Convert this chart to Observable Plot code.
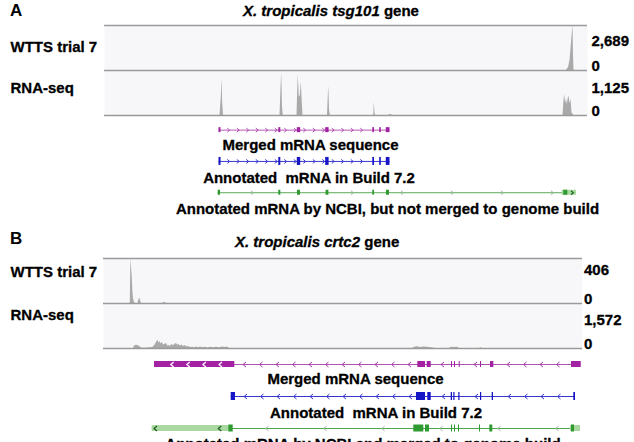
<!DOCTYPE html>
<html>
<head>
<meta charset="utf-8">
<script src="https://cdn.jsdelivr.net/npm/d3@7"></script>
<script src="https://cdn.jsdelivr.net/npm/@observablehq/plot@0.6"></script>
<style>
  html, body { margin: 0; padding: 0; background: #fff; overflow: hidden; }
  #fig { position: relative; width: 634px; height: 442px; overflow: hidden;
         font-family: "Liberation Sans", Arial, sans-serif; color: #000; }
  #fig > div { position: absolute; }
  .letter { font-size: 17px; font-weight: bold; line-height: 17px; }
  .title { font-size: 15px; font-weight: bold; line-height: 15px; white-space: nowrap;
           -webkit-text-stroke: 0.3px #000; }
  svg text { white-space: pre; }
</style>
</head>
<body>
<div id="fig"></div>
<script>
const FONT = "Liberation Sans, Arial, sans-serif";

// ---------- Panel A: tsg101 locus (positions in bp across the browser window) ----------
const tsgRange = [0, 24150];

const tsgWttsMax = 2689;
const tsgWttsPos = [23100, 23200, 23275, 23325, 23375, 23425, 23450, 23475];
const tsgWttsVal = [0, 180, 600, 1300, 2050, 2689, 900, 0];

const tsgRnaMax = 1125;
const tsgRnaPos = [5775, 5840, 5875, 5910, 5950,
  8775, 8825, 8860, 8900, 8940,
  9625, 9665, 9690, 9740, 9790, 9840, 9890, 9925,
  11150, 11190, 11215, 11250, 11290,
  13465, 13490, 13525, 13560,
  14200, 14250, 14350, 14400,
  22925, 22975, 23010, 23050, 23100, 23140, 23190, 23230, 23275, 23325, 23375, 23425, 23475];
const tsgRnaVal = [0, 450, 922, 300, 0,
  0, 700, 1070, 200, 0,
  0, 700, 1010, 450, 500, 830, 300, 0,
  0, 500, 730, 150, 0,
  0, 330, 60, 0,
  0, 25, 20, 0,
  0, 380, 525, 300, 420, 260, 440, 475, 300, 400, 60, 30, 0];

// exon blocks shared by the merged sequence and the Build 7.2 model
const tsgExonStart = [5725, 8715, 9640, 11060, 13415, 13760, 14090];
const tsgExonEnd   = [5825, 8815, 9810, 11230, 13500, 13840, 14275];
const tsgNcbiExonStart = [5685, 8715, 9650, 11080, 13415, 14100, 22965];
const tsgNcbiExonEnd   = [5800, 8815, 9800, 11220, 13500, 14250, 23165];
const tsgNcbiUtrStart = [22885];
const tsgNcbiUtrEnd   = [23600];

// ---------- Panel B: crtc2 locus ----------
const crtcRange = [0, 23950];

const crtcWttsMax = 406;
const crtcWttsPos = [1340, 1370, 1400, 1435, 1465, 1500, 1550, 1600, 1725, 1775, 1815, 1865, 1900, 2950, 3000, 3100, 3150];
const crtcWttsVal = [0, 406, 330, 250, 120, 40, 10, 0, 0, 35, 50, 15, 0, 0, 8, 6, 0];

const crtcRnaMax = 1572;
const crtcRnaPos = [1500, 1550, 1650, 1750, 1850, 1950, 2250, 2350, 2450, 2550, 2650,
  2715, 2765, 2815, 2875, 2935, 3000, 3075, 3150, 3215, 3275,
  3350, 3435, 3500, 3575, 3650, 3715, 3775, 3850, 3935, 4000,
  4100, 4175, 4265, 4350, 4450, 4550, 4650, 4750, 4850, 4950,
  5100, 5200, 5350, 5500, 5650, 5800, 5950, 6100, 6200, 6300,
  15450, 15550, 15700, 15850, 16000, 16200, 16400, 16600,
  17300, 17400, 17550, 17700, 17800,
  18800, 18875, 18950];
const crtcRnaVal = [0, 90, 115, 100, 40, 10, 15, 35, 25, 100, 210,
  300, 190, 245, 160, 215, 120, 150, 175, 90, 105,
  80, 140, 95, 150, 175, 110, 140, 90, 120, 70,
  105, 55, 70, 35, 45, 25, 50, 30, 55, 25,
  45, 20, 40, 25, 45, 30, 50, 35, 50, 0,
  0, 40, 60, 35, 55, 45, 30, 0,
  0, 45, 35, 40, 0,
  0, 25, 0];

const crtcMergedExonStart = [15715, 16185, 17400, 17550, 17785, 18850, 19350, 23400];
const crtcMergedExonEnd   = [16100, 16385, 17450, 17600, 17835, 18900, 19515, 23885];
const crtcMergedUtrStart = [2550];
const crtcMergedUtrEnd   = [6565];

const crtcBuildExonStart = [6385, 15650, 16215, 17385, 17515, 17765, 18850, 19435, 23515];
const crtcBuildExonEnd   = [6600, 16100, 16385, 17450, 17575, 17825, 18910, 19500, 23600];

const crtcNcbiExonStart = [6265, 15515, 16100, 17400, 17550, 17750, 18800, 19315, 23400];
const crtcNcbiExonEnd   = [6485, 16015, 16300, 17450, 17600, 17800, 18850, 19465, 23550];
const crtcNcbiUtrStart = [2435, 23350];
const crtcNcbiUtrEnd   = [6265, 23850];

// ---------- text ----------
const trackNames = ["WTTS trial 7", "RNA-seq"];
const mergedLabel = "Merged mRNA sequence";
const buildLabel = "Annotated  mRNA in Build 7.2";
const ncbiLabelA = "Annotated mRNA by NCBI, but not merged to genome build";
const ncbiLabelB = "Annotated mRNA by NCBI and merged to genome build";

const PURPLE = "#a322a3", BLUE = "#1616c6", GREEN = "#2f9a2f", LIGHTGREEN = "#a9d9a1";
const TRACK_BG = "#f7f7fa", TRACK_LINE = "#9a9a9a", COVER = "#a9a9a9";

const fig = document.getElementById("fig");
function place(node, left, top) {
  const wrap = document.createElement("div");
  wrap.style.left = left + "px";
  wrap.style.top = top + "px";
  wrap.appendChild(node);
  fig.appendChild(wrap);
  return wrap;
}
function htmlText(html, cls, left, top) {
  const d = document.createElement("div");
  d.className = cls;
  d.innerHTML = html;
  place(d, left, top);
}

const textStyle = {fontSize: 15, fontWeight: "bold", fontFamily: FONT, fill: "#000",
  stroke: "#000", strokeWidth: 0.3};

// One read-coverage track: grey filled profile over a pale band with a rule on top
function coverageTrack({pos, val, max, name, domain, left, right, nameDy, maxDy, maxDx, bottomRule}) {
  const pts = pos.map((p, i) => ({pos: p, val: val[i]}));
  return Plot.plot({
    width: 634, height: 49,
    marginTop: 2, marginBottom: 2, marginLeft: left, marginRight: right,
    style: {background: "transparent", overflow: "visible"},
    x: {domain, axis: null},
    y: {domain: [0, max], axis: null},
    marks: [
      Plot.frame({fill: TRACK_BG, stroke: "none"}),
      Plot.areaY(pts, {x: "pos", y: "val", fill: COVER, clip: true}),
      Plot.ruleY([max], {stroke: TRACK_LINE, strokeWidth: 1.3}),
      bottomRule ? Plot.ruleY([0], {stroke: TRACK_LINE, strokeWidth: 1.3}) : null,
      Plot.text([name], {text: d => d, frameAnchor: "top-left", dx: 10 - left, dy: nameDy,
        textAnchor: "start", lineAnchor: "middle", ...textStyle}),
      Plot.text([max], {text: d => d3.format(",")(d), frameAnchor: "top-right", dx: maxDx, dy: maxDy,
        textAnchor: "start", lineAnchor: "middle", ...textStyle}),
      Plot.text(["0"], {text: d => d, frameAnchor: "bottom-right", dx: maxDx, dy: -4,
        textAnchor: "start", lineAnchor: "middle", ...textStyle})
    ]
  });
}

// Chevron glyph used for strand arrows (dir: +1 right, -1 left)
function chevron(dir) {
  return {
    draw(ctx, size) {
      const r = Math.sqrt(size / Math.PI);
      const w = r * 0.6 * dir;
      ctx.moveTo(-w, -r);
      ctx.lineTo(w, 0);
      ctx.lineTo(-w, r);
    }
  };
}

function buildModel(row, exS, exE, utrS, utrE, style) {
  const exons = exS.map((s, i) => ({row, start: s, end: exE[i]}));
  const utrs = utrS.map((s, i) => ({row, start: s, end: utrE[i]}));
  const blocks = exons.concat(utrs);
  const start = d3.min(blocks, d => d.start);
  const end = d3.max(blocks, d => d.end);
  const outside = (p, pad) => blocks.every(b => p < b.start - pad || p > b.end + pad);
  const insideExon = (p, pad) => exons.some(b => p >= b.start - pad && p <= b.end + pad);
  const arrows = d3.range(start + style.arrowOffset, end, style.arrowStep)
    .filter(p => outside(p, style.arrowPad))
    .map(p => ({row, pos: p}));
  const utrArrows = utrs.flatMap(u =>
    d3.range(u.start + style.utrArrowOffset, u.end - 40, style.utrArrowStep)
      .filter(p => !insideExon(p, 60))
      .map(p => ({row, pos: p})));
  return {row, exons, utrs, start, end, arrows, utrArrows, ...style};
}

// Gene-model rows: intron line, strand arrows, UTR and exon blocks, caption below each row
function geneModels({domain, left, right, step, bottom, models, dir, arrowR}) {
  const inset = h => (step - h) / 2;
  const marks = [];
  for (const m of models) {
    marks.push(Plot.ruleY([m], {y: "row", x1: "start", x2: "end", stroke: m.lineColor, strokeWidth: 1}));
    marks.push(Plot.dot(m.arrows, {x: "pos", y: "row", r: arrowR, symbol: chevron(dir),
      stroke: m.arrowColor, fill: "none", strokeWidth: 1}));
    if (m.utrs.length) {
      marks.push(Plot.rect(m.utrs, {x1: "start", x2: "end", y1: d => d.row - 0.5, y2: d => d.row + 0.5,
        insetTop: inset(m.utrH), insetBottom: inset(m.utrH), fill: m.utrFill}));
    }
    marks.push(Plot.rect(m.exons, {x1: "start", x2: "end", y1: d => d.row - 0.5, y2: d => d.row + 0.5,
      insetTop: inset(m.exonH), insetBottom: inset(m.exonH), fill: m.color}));
    if (m.utrArrows.length) {
      marks.push(Plot.dot(m.utrArrows, {x: "pos", y: "row", r: arrowR, symbol: chevron(dir),
        stroke: m.utrArrowColor, fill: "none", strokeWidth: 1.2}));
    }
    marks.push(Plot.text([m], {y: "row", text: "label", frameAnchor: "middle",
      dx: m.labelDx, dy: m.labelDy, lineAnchor: "middle", ...textStyle}));
  }
  return Plot.plot({
    width: 634, height: 3 * step + bottom,
    marginTop: 0, marginBottom: bottom, marginLeft: left, marginRight: right,
    style: {background: "transparent", overflow: "visible"},
    x: {domain, axis: null},
    y: {domain: [2.5, -0.5], axis: null},
    marks
  });
}

// ================= Panel A =================
htmlText("A", "letter", 10, 1.5);
htmlText("<i>X. tropicalis tsg101</i> gene", "title", 243, 3);

place(coverageTrack({pos: tsgWttsPos, val: tsgWttsVal, max: tsgWttsMax, name: trackNames[0],
  domain: tsgRange, left: 104, right: 47, nameDy: 22, maxDy: 15.5, maxDx: 4, bottomRule: false}), 0, 23);
place(coverageTrack({pos: tsgRnaPos, val: tsgRnaVal, max: tsgRnaMax, name: trackNames[1],
  domain: tsgRange, left: 104, right: 47, nameDy: 18, maxDy: 18, maxDx: 4, bottomRule: true}), 0, 68);

const tsgModels = [
  buildModel(0, tsgExonStart, tsgExonEnd, [], [], {
    label: mergedLabel, labelDx: -35.5, labelDy: 15.5,
    color: PURPLE, lineColor: "#b55ab5", exonH: 5, arrowColor: "#b04ab0",
    arrowStep: 475, arrowOffset: 475, arrowPad: 90}),
  buildModel(1, tsgExonStart, tsgExonEnd, [], [], {
    label: buildLabel, labelDx: -37, labelDy: 16.5,
    color: BLUE, lineColor: "#3a3ad0", exonH: 8, arrowColor: "#3a3ad0",
    arrowStep: 475, arrowOffset: 475, arrowPad: 90}),
  buildModel(2, tsgNcbiExonStart, tsgNcbiExonEnd, tsgNcbiUtrStart, tsgNcbiUtrEnd, {
    label: ncbiLabelA, labelDx: 41.5, labelDy: 16.5,
    color: GREEN, lineColor: "#55a955", exonH: 5, arrowColor: "#9cb89c",
    arrowStep: 2500, arrowOffset: 1700, arrowPad: 120,
    utrH: 5, utrFill: LIGHTGREEN, utrArrowColor: "#1d6a1d", utrArrowStep: 5000, utrArrowOffset: 500})
];
place(geneModels({domain: tsgRange, left: 104, right: 47, step: 31.3, bottom: 20,
  models: tsgModels, dir: 1, arrowR: 2}), 0, 114);

// ================= Panel B =================
htmlText("B", "letter", 10, 230);
htmlText("<i>X. tropicalis crtc2</i> gene", "title", 235, 234);

place(coverageTrack({pos: crtcWttsPos, val: crtcWttsVal, max: crtcWttsMax, name: trackNames[0],
  domain: crtcRange, left: 103, right: 52, nameDy: 13.5, maxDy: 12, maxDx: 1.5, bottomRule: false}), 0, 256);
place(coverageTrack({pos: crtcRnaPos, val: crtcRnaVal, max: crtcRnaMax, name: trackNames[1],
  domain: crtcRange, left: 103, right: 52, nameDy: 12, maxDy: 16.5, maxDx: 1.5, bottomRule: true}), 0, 301);

const crtcModels = [
  buildModel(0, crtcMergedExonStart, crtcMergedExonEnd, crtcMergedUtrStart, crtcMergedUtrEnd, {
    label: mergedLabel, labelDx: 12.5, labelDy: 15,
    color: PURPLE, lineColor: "#b050b0", exonH: 6, arrowColor: "#a83ca8",
    arrowStep: 825, arrowOffset: 4500, arrowPad: 120,
    utrH: 6, utrFill: PURPLE, utrArrowColor: "#ffffff", utrArrowStep: 805, utrArrowOffset: 885}),
  buildModel(1, crtcBuildExonStart, crtcBuildExonEnd, [], [], {
    label: buildLabel, labelDx: 33, labelDy: 16.5,
    color: BLUE, lineColor: "#3636cc", exonH: 8, arrowColor: "#3636cc",
    arrowStep: 825, arrowOffset: 715, arrowPad: 120}),
  buildModel(2, crtcNcbiExonStart, crtcNcbiExonEnd, crtcNcbiUtrStart, crtcNcbiUtrEnd, {
    label: ncbiLabelB, labelDx: 20, labelDy: 16,
    color: GREEN, lineColor: "#4aa64a", exonH: 7, arrowColor: "#a9bca9",
    arrowStep: 2900, arrowOffset: 5750, arrowPad: 150,
    utrH: 6, utrFill: LIGHTGREEN, utrArrowColor: "#1d5a1d", utrArrowStep: 3215, utrArrowOffset: 165})
];
place(geneModels({domain: crtcRange, left: 103, right: 52, step: 32, bottom: 24,
  models: crtcModels, dir: -1, arrowR: 2.5}), 0, 348.3);
</script>
</body>
</html>
